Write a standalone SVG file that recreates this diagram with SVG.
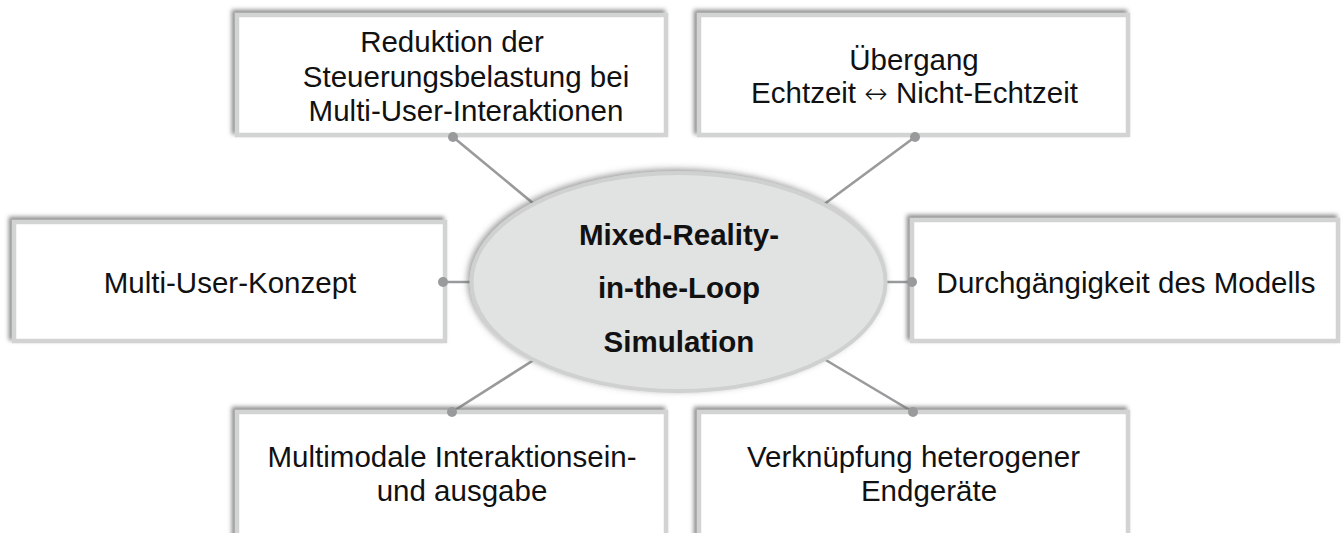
<svg xmlns="http://www.w3.org/2000/svg" width="1341" height="533" viewBox="0 0 1341 533">
  <style>
    .box { fill: #ffffff; stroke: #d2d3d3; stroke-width: 4.5; filter: url(#boxShadow); }
    .lbl { font-family: "Liberation Sans", Arial, sans-serif; font-size: 29.5px; fill: #111; text-anchor: middle; }
    .sym { font-family: "DejaVu Sans", sans-serif; font-size: 28px; font-weight: 200; }
    .hub { font-family: "Liberation Sans", Arial, sans-serif; font-size: 29.5px; font-weight: bold; fill: #111; text-anchor: middle; }
    .link { stroke: #999a9b; stroke-width: 2.6; fill: none; }
    .dot { fill: #999a9b; }
  </style>
  <defs>
    <filter id="boxShadow" x="-5%" y="-10%" width="110%" height="120%">
      <feDropShadow dx="-3" dy="-3" stdDeviation="2" flood-color="#6e6e6e" flood-opacity="0.8"/>
    </filter>
    <filter id="hubShadow" x="-10%" y="-15%" width="120%" height="130%">
      <feDropShadow dx="-2" dy="-2" stdDeviation="3" flood-color="#555" flood-opacity="0.6"/>
    </filter>
  </defs>

  <rect width="1341" height="533" fill="#ffffff"/>

  <!-- connectors from the hub to each topic box -->
  <g id="connectors">
    <line class="link" x1="453" y1="137" x2="540" y2="209"/>
    <line class="link" x1="915" y1="137" x2="819" y2="208"/>
    <line class="link" x1="443" y1="282" x2="480" y2="282"/>
    <line class="link" x1="912" y1="282" x2="878" y2="282"/>
    <line class="link" x1="452" y1="412" x2="540" y2="356"/>
    <line class="link" x1="913" y1="412" x2="819" y2="356"/>
  </g>

  <g id="box-steuerung">
    <rect class="box" x="237" y="15" width="429" height="120"/>
    <text class="lbl" x="452" y="52">Reduktion der</text>
    <text class="lbl" x="466" y="87">Steuerungsbelastung bei</text>
    <text class="lbl" x="466" y="121">Multi-User-Interaktionen</text>
  </g>

  <g id="box-uebergang">
    <rect class="box" x="699" y="15" width="429" height="120"/>
    <text class="lbl" x="914" y="70">Übergang</text>
    <text class="lbl" x="914.5" y="103">Echtzeit <tspan class="sym">↔</tspan> Nicht-Echtzeit</text>
  </g>

  <g id="box-multiuser">
    <rect class="box" x="14" y="222" width="431" height="119"/>
    <text class="lbl" x="230" y="293">Multi-User-Konzept</text>
  </g>

  <g id="box-modell">
    <rect class="box" x="912" y="220" width="426" height="121"/>
    <text class="lbl" x="1126" y="293">Durchgängigkeit des Modells</text>
  </g>

  <g id="box-multimodal">
    <rect class="box" x="237" y="412" width="429" height="140"/>
    <text class="lbl" x="452" y="467">Multimodale Interaktionsein-</text>
    <text class="lbl" x="462" y="501">und ausgabe</text>
  </g>

  <g id="box-endgeraete">
    <rect class="box" x="699" y="412" width="429" height="140"/>
    <text class="lbl" x="913.5" y="467">Verknüpfung heterogener</text>
    <text class="lbl" x="929" y="501">Endgeräte</text>
  </g>

  <!-- connector end dots sit on the box borders -->
  <g id="connector-dots">
    <circle class="dot" cx="453" cy="137" r="5"/>
    <circle class="dot" cx="915" cy="137" r="5"/>
    <circle class="dot" cx="443" cy="282" r="5"/>
    <circle class="dot" cx="912" cy="282" r="5"/>
    <circle class="dot" cx="452" cy="412" r="5"/>
    <circle class="dot" cx="913" cy="412" r="5"/>
  </g>

  <g id="hub">
    <ellipse cx="678.5" cy="282" rx="207" ry="109" fill="#e1e2e2" stroke="#cfd0d0" stroke-width="4" filter="url(#hubShadow)"/>
    <text class="hub" x="679" y="245">Mixed-Reality-</text>
    <text class="hub" x="679" y="298">in-the-Loop</text>
    <text class="hub" x="679" y="352">Simulation</text>
  </g>
</svg>
